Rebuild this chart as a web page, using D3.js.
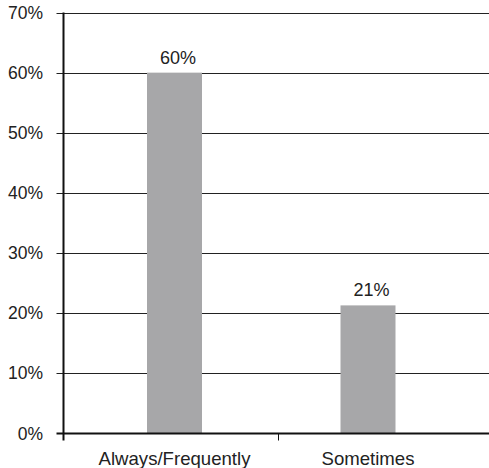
<!DOCTYPE html>
<html><head><meta charset="utf-8">
<script src="https://cdn.jsdelivr.net/npm/d3@7"></script>
<style>body{margin:0;background:#fff}svg{display:block}text{font-family:"Liberation Sans",Arial,sans-serif;fill:#222}</style>
</head><body><svg id="c" width="489" height="468"></svg>
<script>
const categories = ["Always/Frequently", "Sometimes"];
const values = [60, 21.3];
const valueLabels = ["60%", "21%"];
const yTicks = [0, 10, 20, 30, 40, 50, 60, 70];

const svg = d3.select("#c");
const x0 = 63.5, xEnd = 489;
const y = d3.scaleLinear().domain([0, 70]).range([433.5, 12.5]);
const x = d3.scalePoint().domain(categories).range([174.5, 368]);
const barW = 55;

// gridlines
svg.append("g").selectAll("line").data(yTicks.filter(d => d > 0)).join("line")
  .attr("x1", x0 - 7).attr("x2", xEnd)
  .attr("y1", d => Math.round(y(d)) + 0.5).attr("y2", d => Math.round(y(d)) + 0.5)
  .attr("stroke", "#222").attr("stroke-width", 1);

// bars
svg.append("g").selectAll("rect").data(values).join("rect")
  .attr("x", (d, i) => x(categories[i]) - barW / 2)
  .attr("width", barW)
  .attr("y", d => y(d))
  .attr("height", d => y(0) - y(d))
  .attr("fill", "#a7a7a9");

// value labels
svg.append("g").selectAll("text").data(values).join("text")
  .attr("x", (d, i) => x(categories[i]) + 3.5)
  .attr("y", d => y(d) - 9)
  .attr("text-anchor", "middle")
  .attr("font-size", 18)
  .text((d, i) => valueLabels[i]);

// y axis line
svg.append("line").attr("x1", x0).attr("x2", x0).attr("y1", y(70)).attr("y2", y(0) + 7)
  .attr("stroke", "#111").attr("stroke-width", 2);
// x axis line
svg.append("line").attr("x1", x0 - 7).attr("x2", xEnd).attr("y1", y(0)).attr("y2", y(0))
  .attr("stroke", "#111").attr("stroke-width", 2);
// category separator tick
svg.append("line").attr("x1", 278.5).attr("x2", 278.5).attr("y1", y(0)).attr("y2", y(0) + 7)
  .attr("stroke", "#111").attr("stroke-width", 1);

// y tick labels
svg.append("g").selectAll("text").data(yTicks).join("text")
  .attr("x", 43).attr("y", d => y(d) + 6)
  .attr("text-anchor", "end")
  .attr("font-size", 17.5)
  .text(d => d + "%");

// category labels
svg.append("g").selectAll("text").data(categories).join("text")
  .attr("x", d => x(d))
  .attr("y", 464.5)
  .attr("text-anchor", "middle")
  .attr("font-size", 18.6)
  .text(d => d);
</script></body></html>
